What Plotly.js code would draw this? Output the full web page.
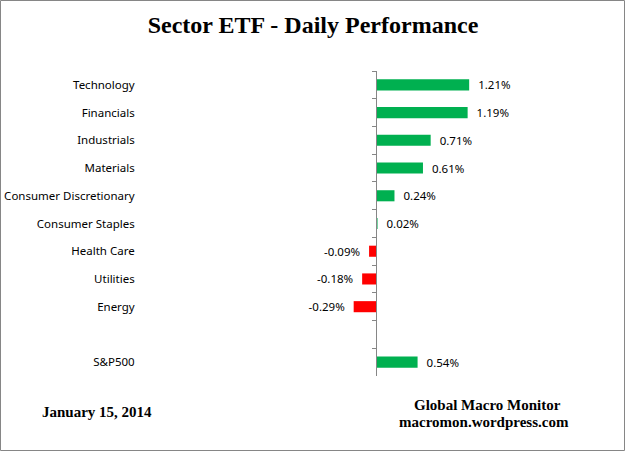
<!DOCTYPE html>
<html>
<head>
<meta charset="utf-8">
<script src="https://cdn.plot.ly/plotly-3.0.1.min.js"></script>
<style>
  body { margin: 0; background: #fff; }
  #chart { width: 625px; height: 451px; }
</style>
</head>
<body>
<div id="chart"></div>
<script>
// sectors top to bottom, blank slot before the index
const sectors = ["Technology", "Financials", "Industrials", "Materials", "Consumer Discretionary",
  "Consumer Staples", "Health Care", "Utilities", "Energy", " ", "S&P500"];
const changes = [1.21, 1.19, 0.71, 0.61, 0.24, 0.02, -0.09, -0.18, -0.29, null, 0.54];

const W = 625, H = 451;
const zeroPx = 376, pxPerPct = 77;      // where 0% sits and how wide 1% is
const plotLeft = 140, plotRight = 600;
const plotTop = 71, plotBottom = 376;

const labels = changes.map(function (v) {
  if (v === null) return "";
  return v < 0 ? v.toFixed(2) + "%\u00a0\u00a0" : "\u00a0\u00a0" + v.toFixed(2) + "%";
});
const colours = changes.map(function (v) { return v < 0 ? "#FF0000" : "#00B050"; });

const data = [{
  type: "bar",
  orientation: "h",
  y: sectors,
  x: changes,
  marker: { color: colours },
  text: labels,
  textposition: "outside",
  constraintext: "none",
  cliponaxis: false,
  textfont: { family: "Noto Sans", size: 11.5, color: "#000" },
  hoverinfo: "none"
}];

const layout = {
  width: W,
  height: H,
  margin: { l: 0, r: 0, t: 0, b: 0 },
  paper_bgcolor: "#fff",
  plot_bgcolor: "rgba(0,0,0,0)",
  showlegend: false,
  bargap: 0.6,
  font: { family: "Noto Sans", size: 11.5, color: "#000" },
  title: {
    text: "<b>Sector ETF - Daily Performance</b>",
    font: { family: "Liberation Serif", size: 24, color: "#000" },
    x: 313 / W, xanchor: "center",
    y: 1 - 25 / H, yanchor: "middle"
  },
  xaxis: {
    domain: [plotLeft / W, plotRight / W],
    range: [(plotLeft - zeroPx) / pxPerPct, (plotRight - zeroPx) / pxPerPct],
    showticklabels: false, showgrid: false, zeroline: false, showline: false,
    fixedrange: true
  },
  yaxis: {
    type: "category",
    categoryarray: sectors,
    range: [sectors.length - 0.5, -0.5],
    domain: [1 - plotBottom / H, 1 - plotTop / H],
    anchor: "free",
    position: zeroPx / W,
    showline: true, linecolor: "#868686", linewidth: 1,
    ticks: "outside", tickson: "boundaries", ticklen: 4, tickcolor: "#868686",
    ticklabelstandoff: 239,
    showgrid: false, zeroline: false,
    tickfont: { family: "Noto Sans", size: 11.5, color: "#000" },
    fixedrange: true
  },
  annotations: [
    { text: "<b>January 15, 2014</b>", xref: "paper", yref: "paper",
      x: 97 / W, y: 1 - 412 / H, xanchor: "center", yanchor: "middle", showarrow: false,
      font: { family: "Liberation Serif", size: 15, color: "#000" } },
    { text: "<b>Global Macro Monitor</b>", xref: "paper", yref: "paper",
      x: 487 / W, y: 1 - 405 / H, xanchor: "center", yanchor: "middle", showarrow: false,
      font: { family: "Liberation Serif", size: 15, color: "#000" } },
    { text: "<b>macromon.wordpress.com</b>", xref: "paper", yref: "paper",
      x: 484 / W, y: 1 - 422 / H, xanchor: "center", yanchor: "middle", showarrow: false,
      font: { family: "Liberation Serif", size: 15, color: "#000" } }
  ],
  shapes: [
    { type: "rect", xref: "paper", yref: "paper",
      x0: 0.5 / W, x1: 1 - 0.5 / W, y0: 0.5 / H, y1: 1 - 0.5 / H,
      line: { color: "#868686", width: 1 } }
  ]
};

Plotly.newPlot("chart", data, layout, { displayModeBar: false, staticPlot: true });
</script>
</body>
</html>
